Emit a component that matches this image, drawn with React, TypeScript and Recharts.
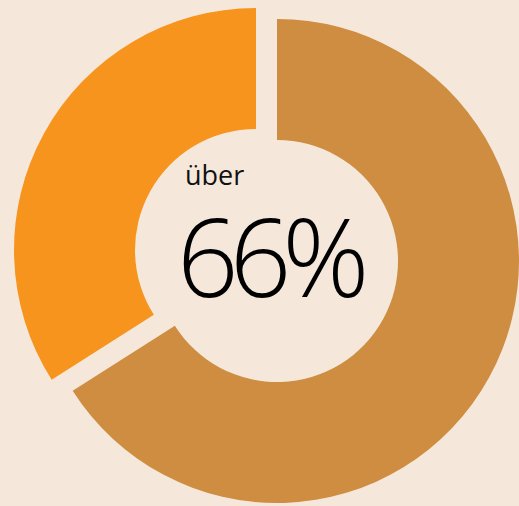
import React from "react";
import { PieChart, Pie, Cell } from "recharts";

const categories = ["über 66%", "Rest"];
const values = [66, 34];
const colors = ["#CE8D40", "#F7941E"];
const centerPrefix = "über";
const centerValue = "66%";

const data = categories.map((name, i) => ({ name, value: values[i] }));

export default function App() {
  return (
    <div style={{ position: "absolute", left: 0, top: 0, width: 519, height: 506, background: "#F5E8DB", overflow: "hidden" }}>
      <PieChart width={519} height={506} margin={{ top: 0, right: 0, bottom: 0, left: 0 }}>
        <Pie
          data={data}
          dataKey="value"
          cx={277}
          cy={261}
          innerRadius={121}
          outerRadius={242}
          startAngle={90}
          endAngle={-270}
          stroke="none"
          isAnimationActive={false}
        >
          {data.map((d, i) => (
            <Cell key={d.name} fill={i === 0 ? colors[0] : "transparent"} />
          ))}
        </Pie>
        <Pie
          data={data}
          dataKey="value"
          cx={256}
          cy={250}
          innerRadius={121}
          outerRadius={242}
          startAngle={90}
          endAngle={-270}
          stroke="none"
          isAnimationActive={false}
        >
          {data.map((d, i) => (
            <Cell key={d.name} fill={i === 1 ? colors[1] : "transparent"} />
          ))}
        </Pie>
      </PieChart>
      <svg width={519} height={506} style={{ position: "absolute", left: 0, top: 0, pointerEvents: "none" }}>
        <text x={185} y={185} fontFamily="Open Sans" fontSize={27} fill="#111">{centerPrefix}</text>
        <text x={177} y={297} fontFamily="Open Sans" fontWeight={300} fontSize={108} letterSpacing={-9} fill="#000">{centerValue}</text>
      </svg>
    </div>
  );
}
